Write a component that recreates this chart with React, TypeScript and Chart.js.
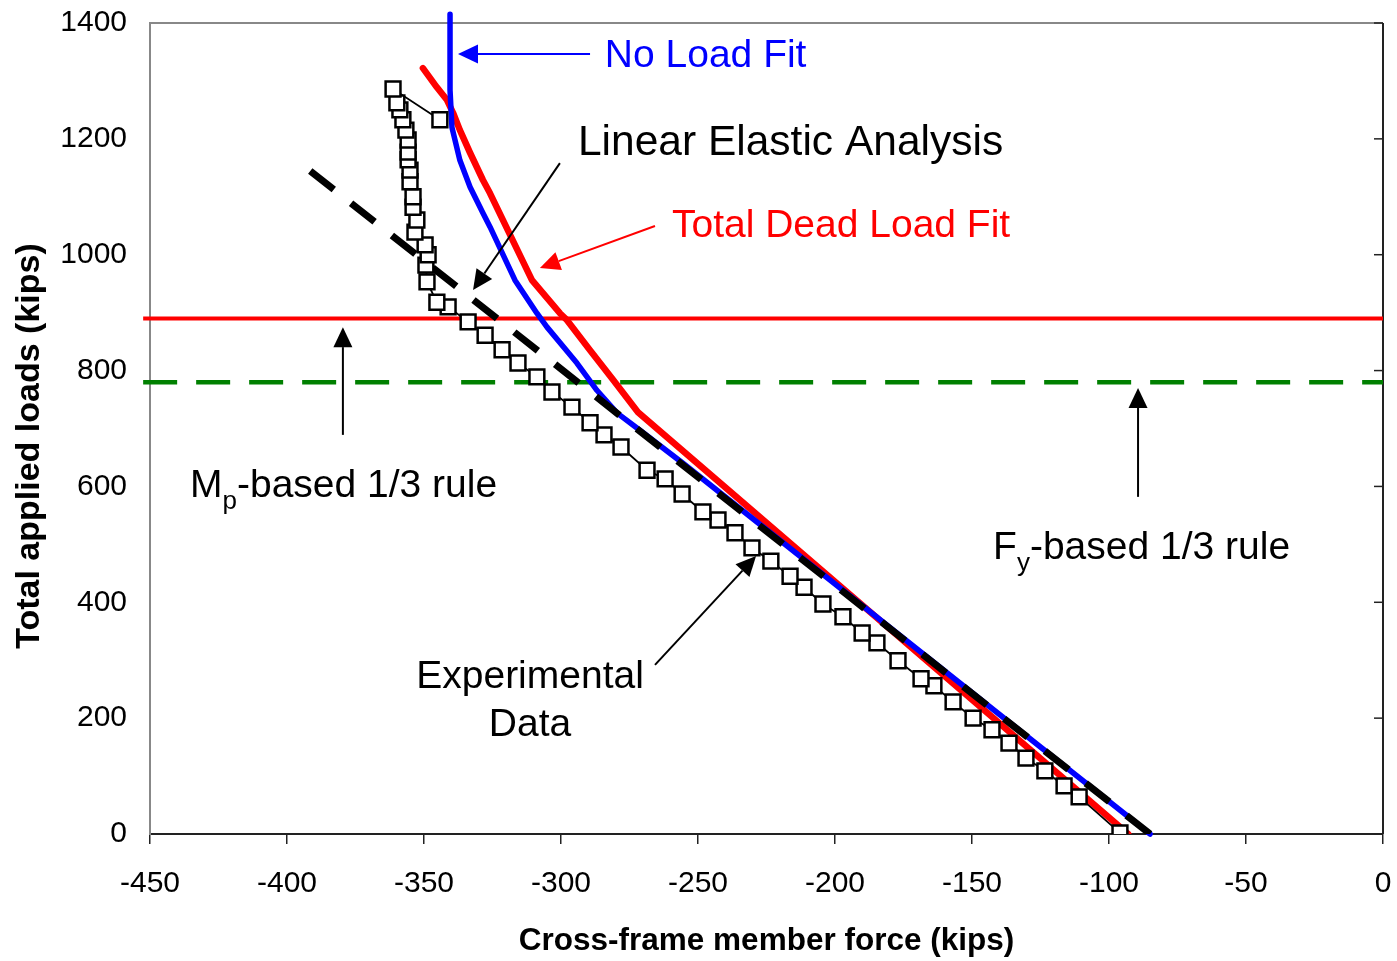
import React, { useEffect, useRef } from "react";
import { Chart, registerables } from "chart.js";

Chart.register(...registerables);

const FONT_FAMILY = "'Liberation Sans', Arial, Helvetica, sans-serif";

// Axes
const xMin = -450;
const xMax = 0;
const xStep = 50;
const yMin = 0;
const yMax = 1400;
const yStep = 200;
const xTitle = "Cross-frame member force (kips)";
const yTitle = "Total applied loads (kips)";

// Experimental data
const expForce = [
  -96.0, -110.9, -116.4, -123.4, -130.3, -136.5, -142.7, -149.6, -156.9, -163.9,
  -168.6, -177.0, -184.7, -190.1, -197.1, -204.4, -211.3, -216.4, -223.4, -230.3,
  -236.5, -242.7, -248.2, -255.8, -262.0, -268.6, -278.1, -284.3, -289.4, -296.0,
  -303.3, -308.8, -315.7, -321.5, -327.7, -333.9, -341.2, -345.3, -348.9, -349.3,
  -348.5, -349.6, -353.3, -352.6, -354.0, -354.0, -355.1, -355.1, -355.8, -355.8,
  -355.8, -356.6, -357.7, -358.8, -359.9, -361.3, -344.2,
];
const expLoad = [
  2, 64, 83, 109, 131, 157, 180, 200, 228, 256,
  268, 299, 330, 347, 375, 397, 426, 445, 471, 494,
  520, 542, 556, 587, 613, 628, 668, 689, 710, 737,
  763, 789, 813, 836, 861, 884, 910, 918, 953, 982,
  1000, 1017, 1039, 1060, 1082, 1100, 1126, 1146, 1164, 1177,
  1198, 1215, 1233, 1250, 1262, 1286, 1233,
];

// Linear elastic analysis
const leaForce = [-85, -393];
const leaLoad = [0, 1150];

// No load fit
const noLoadForce = [-85, -255.5, -271.2, -279.6, -286.9, -294.2, -305.1, -308.8, -316.8, -325.9, -328.5, -333.2, -336.9, -339.8, -340.5, -340.5, -340.5];
const noLoadLoad = [0, 640, 697, 727, 766, 813, 875, 899, 956, 1048, 1072, 1117, 1163, 1220, 1284, 1336, 1415];

// Total dead load fit
const deadForce = [-93, -271.9, -281.0, -289.4, -297.8, -300.4, -310.6, -325.9, -328.5, -333.2, -336.9, -339.4, -341.6, -345.3, -350.4];
const deadLoad = [0, 728, 784, 835, 887, 899, 956, 1106, 1129, 1176, 1215, 1245, 1267, 1289, 1322];

// 1/3 rule levels
const ruleForce = [-452.5, 0];
const mpRuleLoad = [890, 890];
const fyRuleLoad = [780, 780];

const pts = (xs: number[], ys: number[]) => xs.map((x, i) => ({ x, y: ys[i] }));

// Annotations (in data units)
const arrows = [
  { from: [-289.4, 1346.5], to: [-337.6, 1346.5], color: "#0000FF" },
  { from: [-300.4, 1158], to: [-332.1, 939], color: "#000000" },
  { from: [-265.7, 1049.5], to: [-307.7, 977], color: "#FF0000" },
  { from: [-379.6, 689], to: [-379.6, 875], color: "#000000" },
  { from: [-89.4, 582], to: [-89.4, 770], color: "#000000" },
  { from: [-265.7, 292], to: [-228.8, 480], color: "#000000" },
];

type Part = { t: string; sub?: boolean };
const labels: { parts: Part[]; x: number; y: number; color: string; align: "left" | "center"; size: number }[] = [
  { parts: [{ t: "No Load Fit" }], x: -284, y: 1324, color: "#0000FF", align: "left", size: 39 },
  { parts: [{ t: "Linear Elastic Analysis" }], x: -293.8, y: 1172, color: "#000000", align: "left", size: 42.5 },
  { parts: [{ t: "Total Dead Load Fit" }], x: -259.5, y: 1030.6, color: "#FF0000", align: "left", size: 39 },
  { parts: [{ t: "M" }, { t: "p", sub: true }, { t: "-based 1/3 rule" }], x: -435.4, y: 581.7, color: "#000000", align: "left", size: 39 },
  { parts: [{ t: "F" }, { t: "y", sub: true }, { t: "-based 1/3 rule" }], x: -142.3, y: 474.7, color: "#000000", align: "left", size: 39 },
  { parts: [{ t: "Experimental" }], x: -311.3, y: 252, color: "#000000", align: "center", size: 39 },
  { parts: [{ t: "Data" }], x: -311.3, y: 169, color: "#000000", align: "center", size: 39 },
];

function drawArrow(ctx: CanvasRenderingContext2D, x1: number, y1: number, x2: number, y2: number, color: string) {
  const headLen = 20;
  const headHalf = 9.5;
  const ang = Math.atan2(y2 - y1, x2 - x1);
  const bx = x2 - headLen * Math.cos(ang);
  const by = y2 - headLen * Math.sin(ang);
  ctx.strokeStyle = color;
  ctx.lineWidth = 2;
  ctx.beginPath();
  ctx.moveTo(x1, y1);
  ctx.lineTo(bx, by);
  ctx.stroke();
  ctx.fillStyle = color;
  ctx.beginPath();
  ctx.moveTo(x2, y2);
  ctx.lineTo(bx + headHalf * Math.sin(ang), by - headHalf * Math.cos(ang));
  ctx.lineTo(bx - headHalf * Math.sin(ang), by + headHalf * Math.cos(ang));
  ctx.closePath();
  ctx.fill();
}

const zeroPad = (s: any) => {
  s.paddingTop = 0;
  s.paddingBottom = 0;
  s.paddingLeft = 0;
  s.paddingRight = 0;
};

export default function App() {
  const ref = useRef<HTMLCanvasElement>(null);

  useEffect(() => {
    const canvas = ref.current;
    if (!canvas) return;

    const decor = {
      id: "decor",
      beforeDatasetsDraw(chart: any) {
        const { ctx, chartArea } = chart;
        const ys = chart.scales.y;
        ctx.save();
        ctx.strokeStyle = "#888888";
        ctx.lineWidth = 2;
        ctx.beginPath();
        ctx.moveTo(chartArea.left, chartArea.top);
        ctx.lineTo(chartArea.right, chartArea.top);
        ctx.stroke();
        ctx.strokeStyle = "#222222";
        ctx.beginPath();
        ctx.moveTo(chartArea.right, chartArea.top);
        ctx.lineTo(chartArea.right, chartArea.bottom);
        ctx.stroke();
        ctx.lineWidth = 1.5;
        for (let v = yMin; v <= yMax; v += yStep) {
          const py = ys.getPixelForValue(v);
          ctx.beginPath();
          ctx.moveTo(chartArea.right - 9, py);
          ctx.lineTo(chartArea.right, py);
          ctx.stroke();
        }
        // y-axis title
        ctx.save();
        ctx.translate(30, 446);
        ctx.rotate(-Math.PI / 2);
        ctx.font = `bold 34px ${FONT_FAMILY}`;
        ctx.fillStyle = "#000000";
        ctx.textAlign = "center";
        ctx.textBaseline = "middle";
        ctx.fillText(yTitle, 0, 0);
        ctx.restore();
        ctx.restore();
      },
      afterDatasetsDraw(chart: any) {
        const { ctx } = chart;
        const xs = chart.scales.x;
        const ys = chart.scales.y;
        ctx.save();
        for (const a of arrows) {
          drawArrow(
            ctx,
            xs.getPixelForValue(a.from[0]),
            ys.getPixelForValue(a.from[1]),
            xs.getPixelForValue(a.to[0]),
            ys.getPixelForValue(a.to[1]),
            a.color
          );
        }
        ctx.textBaseline = "alphabetic";
        ctx.textAlign = "left";
        for (const l of labels) {
          const mainFont = `${l.size}px ${FONT_FAMILY}`;
          const subFont = `${Math.round(l.size * 0.66)}px ${FONT_FAMILY}`;
          let total = 0;
          for (const p of l.parts) {
            ctx.font = p.sub ? subFont : mainFont;
            total += ctx.measureText(p.t).width;
          }
          let px = xs.getPixelForValue(l.x);
          if (l.align === "center") px -= total / 2;
          const py = ys.getPixelForValue(l.y);
          ctx.fillStyle = l.color;
          for (const p of l.parts) {
            ctx.font = p.sub ? subFont : mainFont;
            ctx.fillText(p.t, px, p.sub ? py + l.size * 0.3 : py);
            px += ctx.measureText(p.t).width;
          }
        }
        ctx.restore();
      },
    };

    const chart = new Chart(canvas, {
      type: "scatter",
      data: {
        datasets: [
          {
            label: "Experimental Data",
            data: pts(expForce, expLoad),
            showLine: true,
            borderColor: "#000000",
            borderWidth: 1.8,
            pointStyle: "rect",
            pointRadius: 10.5,
            pointBorderWidth: 2.5,
            pointBackgroundColor: "#FFFFFF",
            pointBorderColor: "#000000",
            tension: 0,
          },
          {
            label: "Linear Elastic Analysis",
            data: pts(leaForce, leaLoad),
            showLine: true,
            borderColor: "#000000",
            borderWidth: 7,
            borderDash: [30, 22],
            pointRadius: 0,
          },
          {
            label: "No Load Fit",
            data: pts(noLoadForce, noLoadLoad),
            showLine: true,
            borderColor: "#0000FF",
            borderWidth: 5.5,
            borderCapStyle: "round",
            borderJoinStyle: "round",
            pointRadius: 0,
            clip: false,
          },
          {
            label: "Total Dead Load Fit",
            data: pts(deadForce, deadLoad),
            showLine: true,
            borderColor: "#FF0000",
            borderWidth: 6.5,
            borderCapStyle: "round",
            borderJoinStyle: "round",
            pointRadius: 0,
          },
          {
            label: "Mp-based 1/3 rule",
            data: pts(ruleForce, mpRuleLoad),
            showLine: true,
            borderColor: "#FF0000",
            borderWidth: 4,
            pointRadius: 0,
            clip: false,
          },
          {
            label: "Fy-based 1/3 rule",
            data: pts(ruleForce, fyRuleLoad),
            showLine: true,
            borderColor: "#008000",
            borderWidth: 4.5,
            borderDash: [34, 19],
            pointRadius: 0,
            clip: false,
          },
        ] as any,
      },
      options: {
        animation: false,
        responsive: false,
        events: [],
        layout: { padding: { left: 0, right: 14, top: 23, bottom: 0 } },
        plugins: {
          legend: { display: false },
          tooltip: { enabled: false },
        },
        scales: {
          x: {
            type: "linear",
            min: xMin,
            max: xMax,
            afterFit: (s: any) => {
              s.height = 127;
              zeroPad(s);
            },
            ticks: {
              stepSize: xStep,
              color: "#000000",
              padding: 22,
              maxRotation: 0,
              font: { family: FONT_FAMILY, size: 30 },
              callback: (v: any) => String(v),
            },
            grid: {
              display: true,
              drawOnChartArea: false,
              drawTicks: true,
              tickLength: 10,
              color: "#222222",
              lineWidth: 1.5,
            },
            border: { display: true, color: "#222222", width: 2 },
            title: {
              display: true,
              text: xTitle,
              color: "#000000",
              font: { family: FONT_FAMILY, size: 31.5, weight: "bold" },
              padding: { top: 0, bottom: 1 },
            },
          },
          y: {
            type: "linear",
            min: yMin,
            max: yMax,
            afterFit: (s: any) => {
              s.width = 150;
              zeroPad(s);
            },
            ticks: {
              stepSize: yStep,
              color: "#000000",
              padding: 23,
              font: { family: FONT_FAMILY, size: 30 },
              callback: (v: any) => String(v),
            },
            grid: {
              display: true,
              drawOnChartArea: false,
              drawTicks: false,
            },
            border: { display: true, color: "#888888", width: 2 },
            title: { display: false },
          },
        },
      },
      plugins: [decor],
    } as any);

    return () => chart.destroy();
  }, []);

  return (
    <div style={{ position: "absolute", left: 0, top: 0, width: 1397, height: 961, background: "#FFFFFF" }}>
      <canvas ref={ref} width={1397} height={961} style={{ width: 1397, height: 961, display: "block" }} />
    </div>
  );
}
